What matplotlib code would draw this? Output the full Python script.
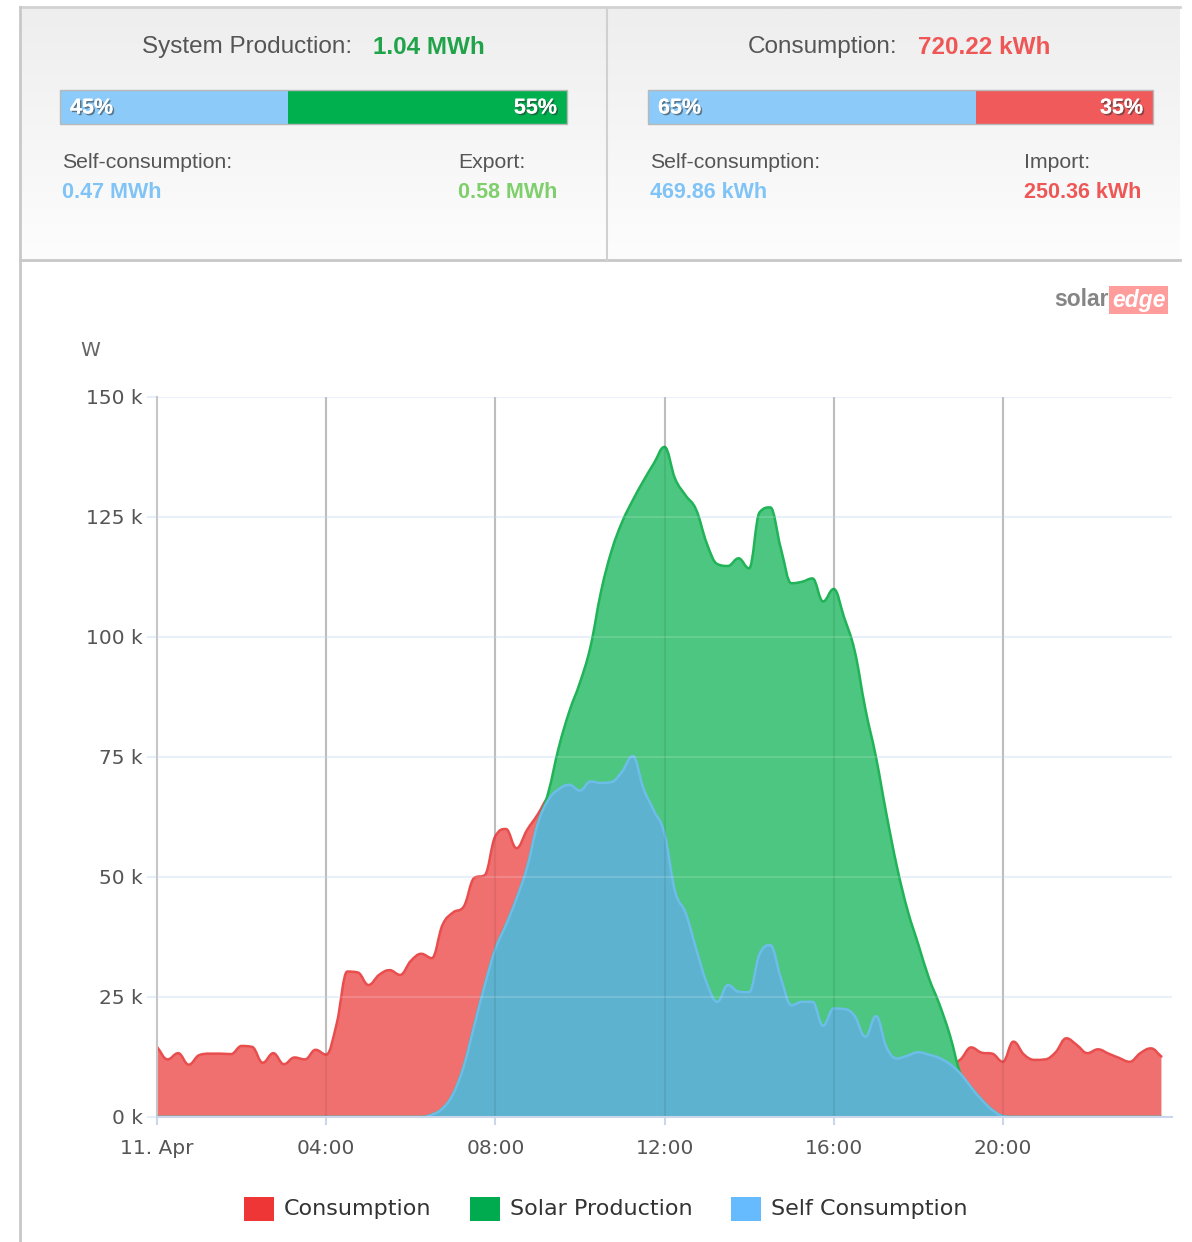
import numpy as np
import matplotlib.pyplot as plt
import matplotlib.patheffects as pe
from matplotlib.patches import Rectangle, PathPatch
from matplotlib.path import Path
from matplotlib.colors import LinearSegmentedColormap

W, H = 1192, 1242

# 15-minute readings, 11 April (kW)
hours = np.arange(96) * 0.25

consumption = [
    14.6, 12.0, 13.3, 10.9, 12.9, 13.2, 13.2, 13.1,
    14.8, 14.6, 11.3, 13.3, 11.0, 12.4, 12.0, 14.0,
    13.0, 19.5, 30.3, 30.1, 27.5, 29.6, 30.6, 29.6,
    32.5, 34.0, 33.1, 40.0, 42.6, 43.8, 49.8, 50.4,
    58.5, 60.0, 56.0, 59.8, 63.0, 66.7, 68.3, 69.2,
    68.0, 69.9, 69.6, 69.8, 72.0, 75.2, 68.5, 63.8,
    59.0, 47.0, 42.5, 35.0, 27.9, 24.0, 27.5, 26.1,
    26.0, 34.0, 35.8, 29.0, 23.3, 24.0, 24.0, 19.0,
    22.6, 22.5, 21.0, 16.7, 21.0, 14.5, 12.2, 12.8,
    13.5, 13.0, 12.3, 11.0, 12.0, 14.5, 13.4, 13.2,
    11.5, 15.7, 13.0, 11.9, 12.0, 13.5, 16.4, 15.0,
    13.3, 14.1, 13.2, 12.3, 11.5, 13.3, 14.3, 12.6,
]

solar_production = [
    0, 0, 0, 0, 0, 0, 0, 0,
    0, 0, 0, 0, 0, 0, 0, 0,
    0, 0, 0, 0, 0, 0, 0, 0,
    0, 0, 0.5, 1.8, 4.8, 10.5, 19.0, 27.5,
    35.0, 40.0, 45.5, 52.0, 61.0, 67.5, 77.0, 84.5,
    90.5, 98.0, 109.5, 118.0, 124.0, 128.5, 132.5, 136.2,
    139.6, 133.0, 129.5, 126.5, 119.5, 115.2, 114.8, 116.4,
    114.3, 126.0, 127.0, 118.5, 111.2, 111.5, 112.2, 107.4,
    110.0, 104.0, 97.0, 85.0, 75.0, 63.0, 52.0, 43.0,
    36.0, 29.0, 23.5, 17.0, 9.0, 6.2, 3.6, 1.5,
    0.2, 0, 0, 0, 0, 0, 0, 0,
    0, 0, 0, 0, 0, 0, 0, 0,
]

self_consumption = [
    0, 0, 0, 0, 0, 0, 0, 0,
    0, 0, 0, 0, 0, 0, 0, 0,
    0, 0, 0, 0, 0, 0, 0, 0,
    0, 0, 0.5, 1.8, 4.8, 10.5, 19.0, 27.5,
    35.0, 40.0, 45.5, 52.0, 61.0, 66.0, 68.3, 69.2,
    68.0, 69.9, 69.6, 69.8, 72.0, 75.2, 68.5, 63.8,
    59.0, 47.0, 42.5, 35.0, 27.9, 24.0, 27.5, 26.1,
    26.0, 34.0, 35.8, 29.0, 23.3, 24.0, 24.0, 19.0,
    22.6, 22.5, 21.0, 16.7, 21.0, 14.5, 12.2, 12.8,
    13.5, 13.0, 12.3, 11.0, 9.0, 6.2, 3.6, 1.5,
    0.2, 0, 0, 0, 0, 0, 0, 0,
    0, 0, 0, 0, 0, 0, 0, 0,
]

x_ticks = [0, 4, 8, 12, 16, 20]
x_labels = ["11. Apr", "04:00", "08:00", "12:00", "16:00", "20:00"]
y_ticks = [0, 25, 50, 75, 100, 125, 150]

# header summary
prod_total = "1.04 MWh"
prod_split = [45, 55]
prod_parts = ["0.47 MWh", "0.58 MWh"]
cons_total = "720.22 kWh"
cons_split = [65, 35]
cons_parts = ["469.86 kWh", "250.36 kWh"]

series_names = ["Consumption", "Solar Production", "Self Consumption"]
legend_colors = ["#ee3636", "#00aa4f", "#66bbff"]

RED_F, RED_L = "#f07070", "#e94e4e"
GRN_F, GRN_L = "#4cc680", "#20b358"
BLU_F, BLU_L = "#5db3cf", "#6dbde9"

SANS = ["Liberation Sans", "DejaVu Sans"]


def spline_path(xs, ys):
    # areaspline-style bezier through the readings (smoothing 1.5)
    xs = np.asarray(xs, float)
    ys = np.asarray(ys, float)
    n = len(xs)
    lc = np.zeros((n, 2))
    rc = np.zeros((n, 2))
    for i in range(n):
        x, y = xs[i], ys[i]
        px, py = (xs[i - 1], ys[i - 1]) if i > 0 else (x, y)
        nx, ny = (xs[i + 1], ys[i + 1]) if i < n - 1 else (x, y)
        lx, ly = (1.5 * x + px) / 2.5, (1.5 * y + py) / 2.5
        rx, ry = (1.5 * x + nx) / 2.5, (1.5 * y + ny) / 2.5
        if 0 < i < n - 1 and rx != lx:
            corr = (ry - ly) * (rx - x) / (rx - lx) + y - ry
            ly += corr
            ry += corr
            if ly > max(py, y):
                ly = max(py, y)
                ry = 2 * y - ly
            elif ly < min(py, y):
                ly = min(py, y)
                ry = 2 * y - ly
            if ry > max(ny, y):
                ry = max(ny, y)
                ly = 2 * y - ry
            elif ry < min(ny, y):
                ry = min(ny, y)
                ly = 2 * y - ry
        lc[i] = lx, ly
        rc[i] = rx, ry
    verts = [(xs[0], ys[0])]
    codes = [Path.MOVETO]
    for i in range(1, n):
        verts += [tuple(rc[i - 1]), tuple(lc[i]), (xs[i], ys[i])]
        codes += [Path.CURVE4] * 3
    return verts, codes


def area(ax, xs, ys, fill, line, z):
    verts, codes = spline_path(xs, ys)
    fv = [(xs[0], 0)] + verts + [(xs[-1], 0), (xs[0], 0)]
    fc = [Path.MOVETO, Path.LINETO] + codes[1:] + [Path.LINETO, Path.CLOSEPOLY]
    ax.add_patch(PathPatch(Path(fv, fc), fc=fill, ec="none", zorder=z))
    ax.add_patch(PathPatch(Path(verts, codes), fc="none", ec=line, lw=1.8,
                           zorder=z + 0.1, capstyle="round", joinstyle="round"))


fig = plt.figure(figsize=(W / 100, H / 100), dpi=100)
fig.patch.set_facecolor("white")

# background layer in pixel coordinates
bg = fig.add_axes([0, 0, 1, 1])
bg.axis("off")
hdr = LinearSegmentedColormap.from_list("hdr", ["#eeeeee", "#fdfdfd"])
bg.imshow(np.linspace(0, 1, 100).reshape(-1, 1), cmap=hdr,
          extent=[20, 1180, 260, 8], aspect="auto", zorder=0)
bg.set_xlim(0, W)
bg.set_ylim(H, 0)
bg.plot([20, 1180], [7, 7], color="#d2d2d2", lw=2)
bg.plot([20, 1180], [260, 260], color="#c8c8c8", lw=2)
bg.plot([607, 607], [8, 260], color="#d0d0d0", lw=1.5)
bg.plot([20, 20], [7, H], color="#c8c8c8", lw=2)

shadow = [pe.withSimplePatchShadow(offset=(1.2, -1.2), shadow_rgbFace="#333333", alpha=0.55),
          pe.Normal()]


def summary(cx_label, cx_val, title, total, total_col, x0, x1, split, right_col,
            lab_l, lab_r, val_l, val_r, val_l_col, val_r_col, xr):
    bg.text(cx_label, 47, title, ha="right", va="center", fontsize=17.5,
            color="#555555", family=SANS)
    bg.text(cx_val, 47, total, ha="left", va="center", fontsize=17.5,
            color=total_col, family=SANS, fontweight="bold")
    xm = x0 + (x1 - x0) * split[0] / 100
    bg.add_patch(Rectangle((x0, 90), xm - x0, 34, fc="#8ccbf9", ec="none", zorder=2))
    bg.add_patch(Rectangle((xm, 90), x1 - xm, 34, fc=right_col, ec="none", zorder=2))
    bg.add_patch(Rectangle((x0, 90), x1 - x0, 34, fc="none", ec="#b8b8b8", lw=1, zorder=3))
    bg.text(x0 + 10, 108, f"{split[0]}%", ha="left", va="center", fontsize=15.5,
            color="white", fontweight="bold", family=SANS, path_effects=shadow, zorder=4)
    bg.text(x1 - 10, 108, f"{split[1]}%", ha="right", va="center", fontsize=15.5,
            color="white", fontweight="bold", family=SANS, path_effects=shadow, zorder=4)
    bg.text(x0 + 2, 162, lab_l, ha="left", va="center", fontsize=15.3,
            color="#555555", family=SANS)
    bg.text(xr, 162, lab_r, ha="left", va="center", fontsize=15.3,
            color="#555555", family=SANS)
    bg.text(x0 + 2, 193, val_l, ha="left", va="center", fontsize=15.5,
            color=val_l_col, family=SANS, fontweight="bold")
    bg.text(xr, 193, val_r, ha="left", va="center", fontsize=15.5,
            color=val_r_col, family=SANS, fontweight="bold")


summary(352, 373, "System Production:", prod_total, "#21a34a", 60, 567, prod_split,
        "#00b04f", "Self-consumption:", "Export:", prod_parts[0], prod_parts[1],
        "#80c4f7", "#7fcf6c", 458)
summary(897, 918, "Consumption:", cons_total, "#ef5757", 648, 1153, cons_split,
        "#f05a5a", "Self-consumption:", "Import:", cons_parts[0], cons_parts[1],
        "#80c4f7", "#ef5757", 1024)

# logo
bg.text(1109, 300, "solar", ha="right", va="center", fontsize=16.5, color="#858585",
        fontweight="bold", family=SANS)
bg.text(1112, 300, "edge", ha="left", va="center", fontsize=16.5, color="white",
        fontweight="bold", family=SANS, fontstyle="italic",
        bbox=dict(boxstyle="square,pad=0.12", fc="#ff9c9c", ec="none"))

# y-axis title
bg.text(90, 351, "W", ha="center", va="center", fontsize=14.5, color="#666666")

# legend
for i, (name, col) in enumerate(zip(series_names, legend_colors)):
    lx = [244, 470, 731][i]
    bg.add_patch(Rectangle((lx, 1197), 30, 24, fc=col, ec="none"))
    bg.text(lx + 40, 1209, name, ha="left", va="center", fontsize=16, color="#333333")

# chart
ax = fig.add_axes([157 / W, 1 - 1117 / H, (1172 - 157) / W, 720 / H])
ax.patch.set_alpha(0)
ax.set_xlim(0, 24)
ax.set_ylim(0, 150)

for y in y_ticks:
    ax.axhline(y, color="#e6eef8", lw=1.5, zorder=1)
for x in x_ticks[1:]:
    ax.axvline(x, color="#cccccc", lw=1.5, zorder=1)

area(ax, hours, consumption, RED_F, RED_L, 2)
area(ax, hours, solar_production, GRN_F, GRN_L, 3)
area(ax, hours, self_consumption, BLU_F, BLU_L, 4)

# faint grid showing through the areas
for y in y_ticks[1:]:
    ax.axhline(y, color="white", lw=1.5, alpha=0.15, zorder=5)
for x in x_ticks[1:]:
    ax.axvline(x, color="black", lw=1.5, alpha=0.07, zorder=5)

ax.spines["top"].set_visible(False)
ax.spines["right"].set_visible(False)
ax.spines["left"].set_color("#c6c6c6")
ax.spines["left"].set_linewidth(1.5)
ax.spines["bottom"].set_color("#ccd6eb")
ax.spines["bottom"].set_linewidth(1.5)
ax.spines["bottom"].set_zorder(6)

ax.set_yticks(y_ticks)
ax.set_yticklabels([f"{v} k" for v in y_ticks])
ax.set_xticks(x_ticks)
ax.set_xticklabels(x_labels)
ax.tick_params(axis="y", length=7.2, width=1.5, color="#e6eef8", pad=3,
               labelsize=14.5, labelcolor="#555555")
ax.tick_params(axis="x", length=6, width=1.5, color="#ccd6eb", pad=9.5,
               labelsize=14.5, labelcolor="#555555")

fig.savefig("out.png", dpi=100)
